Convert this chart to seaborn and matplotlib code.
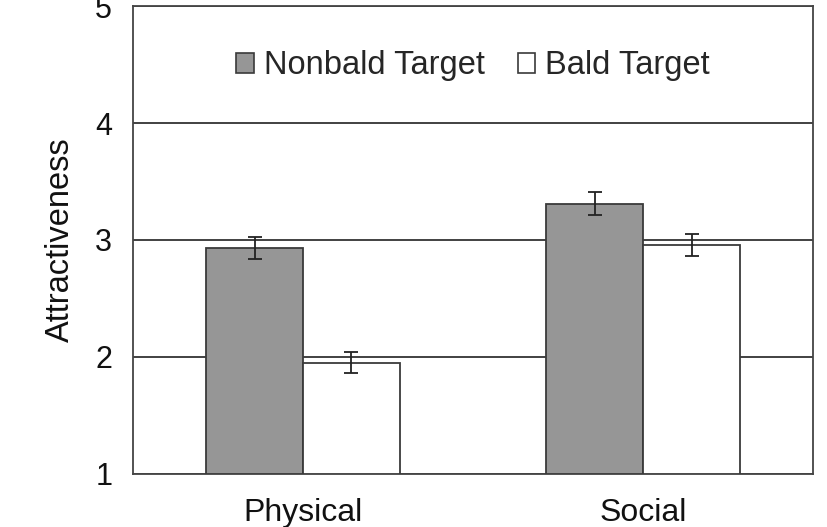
import matplotlib
matplotlib.use('Agg')
import matplotlib.pyplot as plt
import seaborn as sns
import pandas as pd
from matplotlib.patches import Patch

# 데이터
categories = ['Physical', 'Social']
targets = ['Nonbald Target', 'Bald Target']
nonbald_means = [2.93, 3.31]
bald_means = [1.95, 2.96]
nonbald_err = [0.095, 0.10]
bald_err = [0.09, 0.095]

colors = {'Nonbald Target': '#969696', 'Bald Target': '#ffffff'}
edge = '#3a3a3a'

df = pd.DataFrame({
    'Dimension': categories * 2,
    'Target': [targets[0]] * 2 + [targets[1]] * 2,
    'Attractiveness': nonbald_means + bald_means,
    'err': nonbald_err + bald_err,
})

sns.set_style('white')
plt.rcParams['font.family'] = ['Liberation Sans', 'DejaVu Sans']

fig = plt.figure(figsize=(8.28, 5.27), dpi=100)
ax = fig.add_axes([0.1606, 0.1006, 0.8215, 0.888])

# 막대 (1부터 시작하므로 bottom 사용)
sns.barplot(data=df.assign(h=df['Attractiveness'] - 1), x='Dimension', y='h',
            hue='Target', hue_order=targets, order=categories, palette=colors,
            width=0.57, edgecolor=edge, linewidth=1.3, errorbar=None,
            legend=False, ax=ax, zorder=3, bottom=1)

# 오차 막대
for cont, tgt in zip(ax.containers, targets):
    sub = df[df['Target'] == tgt].set_index('Dimension').loc[categories]
    xs = [b.get_x() + b.get_width() / 2 for b in cont]
    ax.errorbar(xs, sub['Attractiveness'], yerr=sub['err'], fmt='none',
                ecolor='#222222', elinewidth=1.3, capsize=4.7, capthick=1.3, zorder=4)

ax.set_ylim(1, 5)
ax.set_xlim(-0.5, 1.5)
ax.set_yticks([1, 2, 3, 4, 5])
ax.yaxis.grid(True, color='#333333', linewidth=1.3, zorder=0)
ax.set_axisbelow(True)
for s in ax.spines.values():
    s.set_color('#444444')
    s.set_linewidth(1.3)
    s.set_visible(True)

ax.tick_params(axis='y', labelsize=22, length=0, pad=15, colors='#111111')
ax.tick_params(axis='x', labelsize=23, length=0, pad=17, colors='#111111')
ax.set_xlabel('')
ax.set_ylabel('Attractiveness', fontsize=23.5, labelpad=14, color='#111111')

handles = [Patch(facecolor=colors[t], edgecolor=edge, linewidth=1.2) for t in targets]
ax.legend(handles, targets, loc='center', bbox_to_anchor=(0.5, 0.872), ncol=2,
          frameon=False, fontsize=23.5, handlelength=0.55, handleheight=0.55,
          handletextpad=0.3, columnspacing=1.0)

fig.savefig('out.png', dpi=100)
